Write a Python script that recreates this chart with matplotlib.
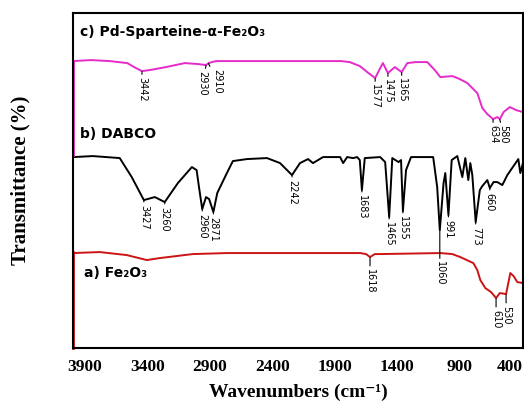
import numpy as np
import matplotlib
matplotlib.use("Agg")
import matplotlib.pyplot as plt

# FTIR spectra, stacked with offsets (wavenumber cm-1, offset transmittance a.u.)
# c) Pd-Sparteine-alpha-Fe2O3
wn_c = [3996, 3850, 3700, 3560, 3490, 3442, 3380, 3250, 3100, 2990, 2930, 2910,
        2850, 2600, 2000, 1850, 1780, 1700, 1630, 1577, 1545, 1515, 1475, 1420,
        1365, 1320, 1250, 1160, 1100, 1056, 960, 900, 840, 760, 720, 680, 634,
        600, 580, 550, 500, 450, 395]
t_c = [287, 288, 287, 285, 280, 277, 278, 281, 285, 284, 283, 285,
       287, 287, 287, 287, 286, 282, 275, 270, 278, 285, 275, 281,
       276, 285, 286, 286, 278, 271, 272, 269, 265, 255, 240, 234, 229,
       231, 229, 236, 241, 238, 236]

# b) DABCO
wn_b = [3990, 3836, 3620, 3524, 3427, 3339, 3260, 3155, 3043, 3005, 2985, 2960,
        2930, 2905, 2871, 2840, 2763, 2715, 2603, 2442, 2338, 2242, 2178, 2114,
        2074, 1994, 1857, 1833, 1801, 1753, 1721, 1700, 1683, 1660, 1537, 1497,
        1465, 1440, 1390, 1370, 1355, 1330, 1290, 1233, 1113, 1081, 1060, 1030,
        1016, 991, 965, 920, 880, 856, 832, 816, 800, 773, 740, 720, 680, 660,
        630, 600, 560, 520, 432, 416, 395]
t_b = [191, 192, 190, 171, 148, 151, 146, 165, 181, 178, 160, 139,
       151, 149, 136, 155, 175, 187, 189, 190, 185, 173, 185, 189,
       185, 191, 191, 185, 191, 190, 191, 188, 158, 190, 191, 186,
       131, 190, 186, 188, 137, 178, 191, 191, 191, 161, 118, 165,
       175, 133, 188, 192, 171, 190, 168, 185, 173, 126, 158, 162, 168, 160,
       166, 166, 163, 173, 189, 175, 185]

# a) Fe2O3
wn_a = [3996, 3780, 3564, 3403, 3299, 3035, 2763, 1697, 1650, 1618, 1580, 1537,
        1056, 960, 896, 792, 760, 736, 696, 650, 610, 580, 530, 496, 470, 440, 395]
t_a = [95, 96, 93, 88, 90, 94, 95, 95, 94, 91, 94, 94,
       95, 94, 91, 85, 78, 68, 60, 56, 50, 55, 54, 75, 72, 66, 65]

peaks_c = [3442, 2930, 2910, 1577, 1475, 1365, 634, 580]
peaks_b = [3427, 3260, 2960, 2871, 2242, 1683, 1465, 1355, 1060, 991, 773, 660]
peaks_a = [1618, 610, 530]

xticks = [3900, 3400, 2900, 2400, 1900, 1400, 900, 400]

col_c = '#e52bc9'
col_b = 'black'
col_a = '#cc1414'

fig = plt.figure(figsize=(5.24, 4.09), dpi=100)
ax = fig.add_axes([0.139, 0.149, 0.859, 0.819])

ax.plot(wn_c, t_c, color=col_c, lw=1.4)
ax.plot(wn_b, t_b, color=col_b, lw=1.4)
ax.plot(wn_a, t_a, color=col_a, lw=1.4)


def label_peaks(peaks, wn, t, gap=4, shift=None, drop=None):
    # gap/shift in points, rotated labels hang below each band
    shift = shift or {}
    drop = drop or {}
    x = np.array(wn[::-1], dtype=float)
    y = np.array(t[::-1], dtype=float)
    for p in peaks:
        yd = np.interp(p, x, y)
        ax.annotate(str(p), xy=(p, yd - 0.5),
                    xytext=(shift.get(p, 0), -drop.get(p, gap)),
                    textcoords='offset points',
                    rotation=270, ha='center', va='top', fontsize=7,
                    arrowprops=dict(arrowstyle='-', lw=0.8, color='black',
                                    shrinkA=0, shrinkB=0))


label_peaks(peaks_c, wn_c, t_c, gap=4, shift={2930: -2.5, 2910: 6.5, 580: 2.5})
label_peaks(peaks_b, wn_b, t_b, gap=3, drop={1060: 22})
label_peaks(peaks_a, wn_a, t_a, gap=8)

ax.text(0.017, 0.945, 'c) Pd-Sparteine-α-Fe₂O₃', transform=ax.transAxes,
        fontsize=10, fontweight='bold', va='center')
ax.text(0.017, 0.64, 'b) DABCO', transform=ax.transAxes,
        fontsize=10, fontweight='bold', va='center')
ax.text(0.025, 0.225, 'a) Fe₂O₃', transform=ax.transAxes,
        fontsize=10, fontweight='bold', va='center')

# coloured edge pieces left over from the stacked panels
ax.plot([0, 0], [0.576, 0.857], transform=ax.transAxes, color=col_c, lw=2, clip_on=False)
ax.plot([0, 0], [0.0, 0.287], transform=ax.transAxes, color=col_a, lw=2, clip_on=False)
ax.plot([1, 1], [0.576, 0.704], transform=ax.transAxes, color=col_c, lw=2, clip_on=False)
ax.plot([1, 1], [0.099, 0.194], transform=ax.transAxes, color=col_a, lw=2, clip_on=False)

ax.set_xlim(3995, 395)
ax.set_ylim(0, 335)
ax.set_xticks(xticks)
ax.set_xticklabels([str(v) for v in xticks], fontfamily='Liberation Serif',
                   fontweight='bold', fontsize=12.5)
ax.get_xticklabels()[-1].set_ha('right')
ax.tick_params(axis='x', length=0, pad=8)
ax.set_yticks([])
for s in ax.spines.values():
    s.set_linewidth(1.5)

ax.set_xlabel('Wavenumbers (cm⁻¹)', fontfamily=['Liberation Serif', 'DejaVu Serif'],
              fontweight='bold', fontsize=14, labelpad=6)
ax.set_ylabel('Transmittance (%)', fontfamily='Liberation Serif',
              fontweight='bold', fontsize=15)
ax.yaxis.set_label_coords(-0.094, 0.5)

plt.savefig('out.png', dpi=100)
